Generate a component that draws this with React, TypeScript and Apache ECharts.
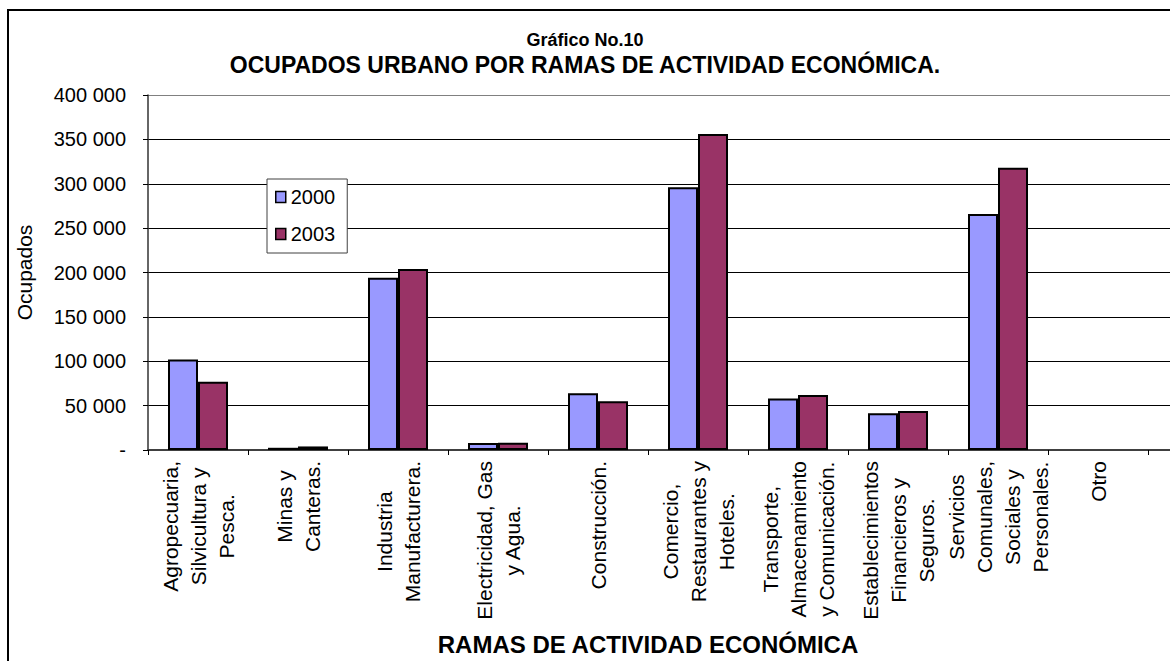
import React, { useEffect, useRef } from "react";
import * as echarts from "echarts";

const FONT = "Arial, 'Liberation Sans', sans-serif";

const titleLine1 = "Gráfico No.10";
const titleLine2 = "OCUPADOS URBANO POR RAMAS DE ACTIVIDAD ECONÓMICA.";
const xAxisTitle = "RAMAS DE ACTIVIDAD ECONÓMICA";
const yAxisTitle = "Ocupados";

const categories = [
  "Agropecuaria,\nSilvicultura y\nPesca.",
  "Minas y\nCanteras.",
  "Industria\nManufacturera.",
  "Electricidad, Gas\ny Agua.",
  "Construcción.",
  "Comercio,\nRestaurantes y\nHoteles.",
  "Transporte,\nAlmacenamiento\ny Comunicación.",
  "Establecimientos\nFinancieros y\nSeguros.",
  "Servicios\nComunales,\nSociales y\nPersonales.",
  "Otro",
];

const seriesNames = ["2000", "2003"];
const values2000 = [102000, 2500, 194000, 8000, 64000, 296000, 58000, 41500, 266000, null];
const values2003 = [77000, 4000, 204000, 8200, 55000, 356000, 62000, 44000, 318000, null];

const yMin = 0;
const yMax = 400000;
const yInterval = 50000;

const fmt = (v: number) =>
  v === 0 ? "-" : String(v).replace(/\B(?=(\d{3})+(?!\d))/g, " ");

const gridColors = ["#000", "#000", "#000", "#000", "#000", "#000", "#000", "#000", "#808080"];

export default function App() {
  const ref = useRef<HTMLDivElement>(null);
  useEffect(() => {
    document.body.style.margin = "0";
    const chart = echarts.init(ref.current!, null, { renderer: "svg" });
    chart.setOption({
      animation: false,
      backgroundColor: "#fff",
      textStyle: { fontFamily: FONT, color: "#000" },
      title: [
        {
          text: titleLine1,
          left: "center",
          top: 31,
          padding: 0,
          textStyle: { fontFamily: FONT, fontSize: 18, fontWeight: "bold", color: "#000" },
        },
        {
          text: titleLine2,
          left: "center",
          top: 53,
          padding: 0,
          textStyle: { fontFamily: FONT, fontSize: 23, fontWeight: "bold", color: "#000" },
        },
      ],
      graphic: [
        {
          type: "rect",
          shape: { x: 8, y: 10, width: 1400, height: 900 },
          style: { fill: "none", stroke: "#000", lineWidth: 2 },
          silent: true,
          z: 100,
        },
      ],
      legend: {
        orient: "vertical",
        left: 267,
        top: 179,
        padding: [7, 12, 8, 8],
        itemGap: 15,
        itemWidth: 10,
        itemHeight: 11,
        icon: "rect",
        borderColor: "#404040",
        borderWidth: 1,
        backgroundColor: "#fff",
        itemStyle: { borderColor: "#000", borderWidth: 1.5 },
        textStyle: { fontFamily: FONT, fontSize: 20, lineHeight: 22, color: "#000" },
        data: seriesNames,
        z: 10,
      },
      grid: [
        { left: 148, top: 95, width: 1000, height: 355 },
        { left: 1148, top: 95, right: 0, height: 355 },
      ],
      xAxis: [
        {
          gridIndex: 0,
          type: "category",
          data: categories,
          name: xAxisTitle,
          nameLocation: "middle",
          nameGap: 182,
          nameTextStyle: { fontFamily: FONT, fontSize: 24, fontWeight: "bold", color: "#000" },
          axisLine: { lineStyle: { color: "#404040", width: 2 } },
          axisTick: { show: true, length: 5, interval: 0, lineStyle: { color: "#000" } },
          axisLabel: {
            interval: 0,
            rotate: 90,
            margin: 11,
            hideOverlap: false,
            formatter: (v: string) => v.split("\n").map((s) => `{c|${s}}`).join("\n"),
            rich: {
              c: { align: "center", fontFamily: FONT, fontSize: 21, lineHeight: 28, color: "#000" },
            },
          },
          splitLine: { show: false },
        },
        {
          gridIndex: 1,
          type: "value",
          min: 0,
          max: 1,
          axisLine: { show: true, lineStyle: { color: "#404040", width: 2 } },
          axisTick: { show: false },
          axisLabel: { show: false },
          splitLine: { show: false },
        },
      ],
      yAxis: [
        {
          gridIndex: 0,
          type: "value",
          min: yMin,
          max: yMax,
          interval: yInterval,
          name: yAxisTitle,
          nameLocation: "middle",
          nameGap: 113,
          nameTextStyle: { fontFamily: FONT, fontSize: 21, color: "#000" },
          axisLine: { show: true, lineStyle: { color: "#333", width: 1.5 } },
          axisTick: { show: true, length: 5, lineStyle: { color: "#000" } },
          axisLabel: {
            margin: 22,
            formatter: fmt,
            fontFamily: FONT,
            fontSize: 20,
            color: "#000",
          },
          splitLine: { show: true, lineStyle: { color: gridColors, width: 1 } },
        },
        {
          gridIndex: 1,
          type: "value",
          min: yMin,
          max: yMax,
          interval: yInterval,
          axisLine: { show: false },
          axisTick: { show: false },
          axisLabel: { show: false },
          splitLine: { show: true, lineStyle: { color: gridColors, width: 1 } },
        },
      ],
      series: [
        {
          name: seriesNames[0],
          type: "bar",
          xAxisIndex: 0,
          yAxisIndex: 0,
          data: values2000,
          barGap: "0%",
          barCategoryGap: "40%",
          itemStyle: { color: "#9999FF", borderColor: "#000", borderWidth: 2 },
        },
        {
          name: seriesNames[1],
          type: "bar",
          xAxisIndex: 0,
          yAxisIndex: 0,
          data: values2003,
          barGap: "0%",
          barCategoryGap: "40%",
          itemStyle: { color: "#993366", borderColor: "#000", borderWidth: 2 },
        },
      ],
    });
    return () => chart.dispose();
  }, []);
  return <div ref={ref} style={{ width: 1170, height: 661 }} />;
}
